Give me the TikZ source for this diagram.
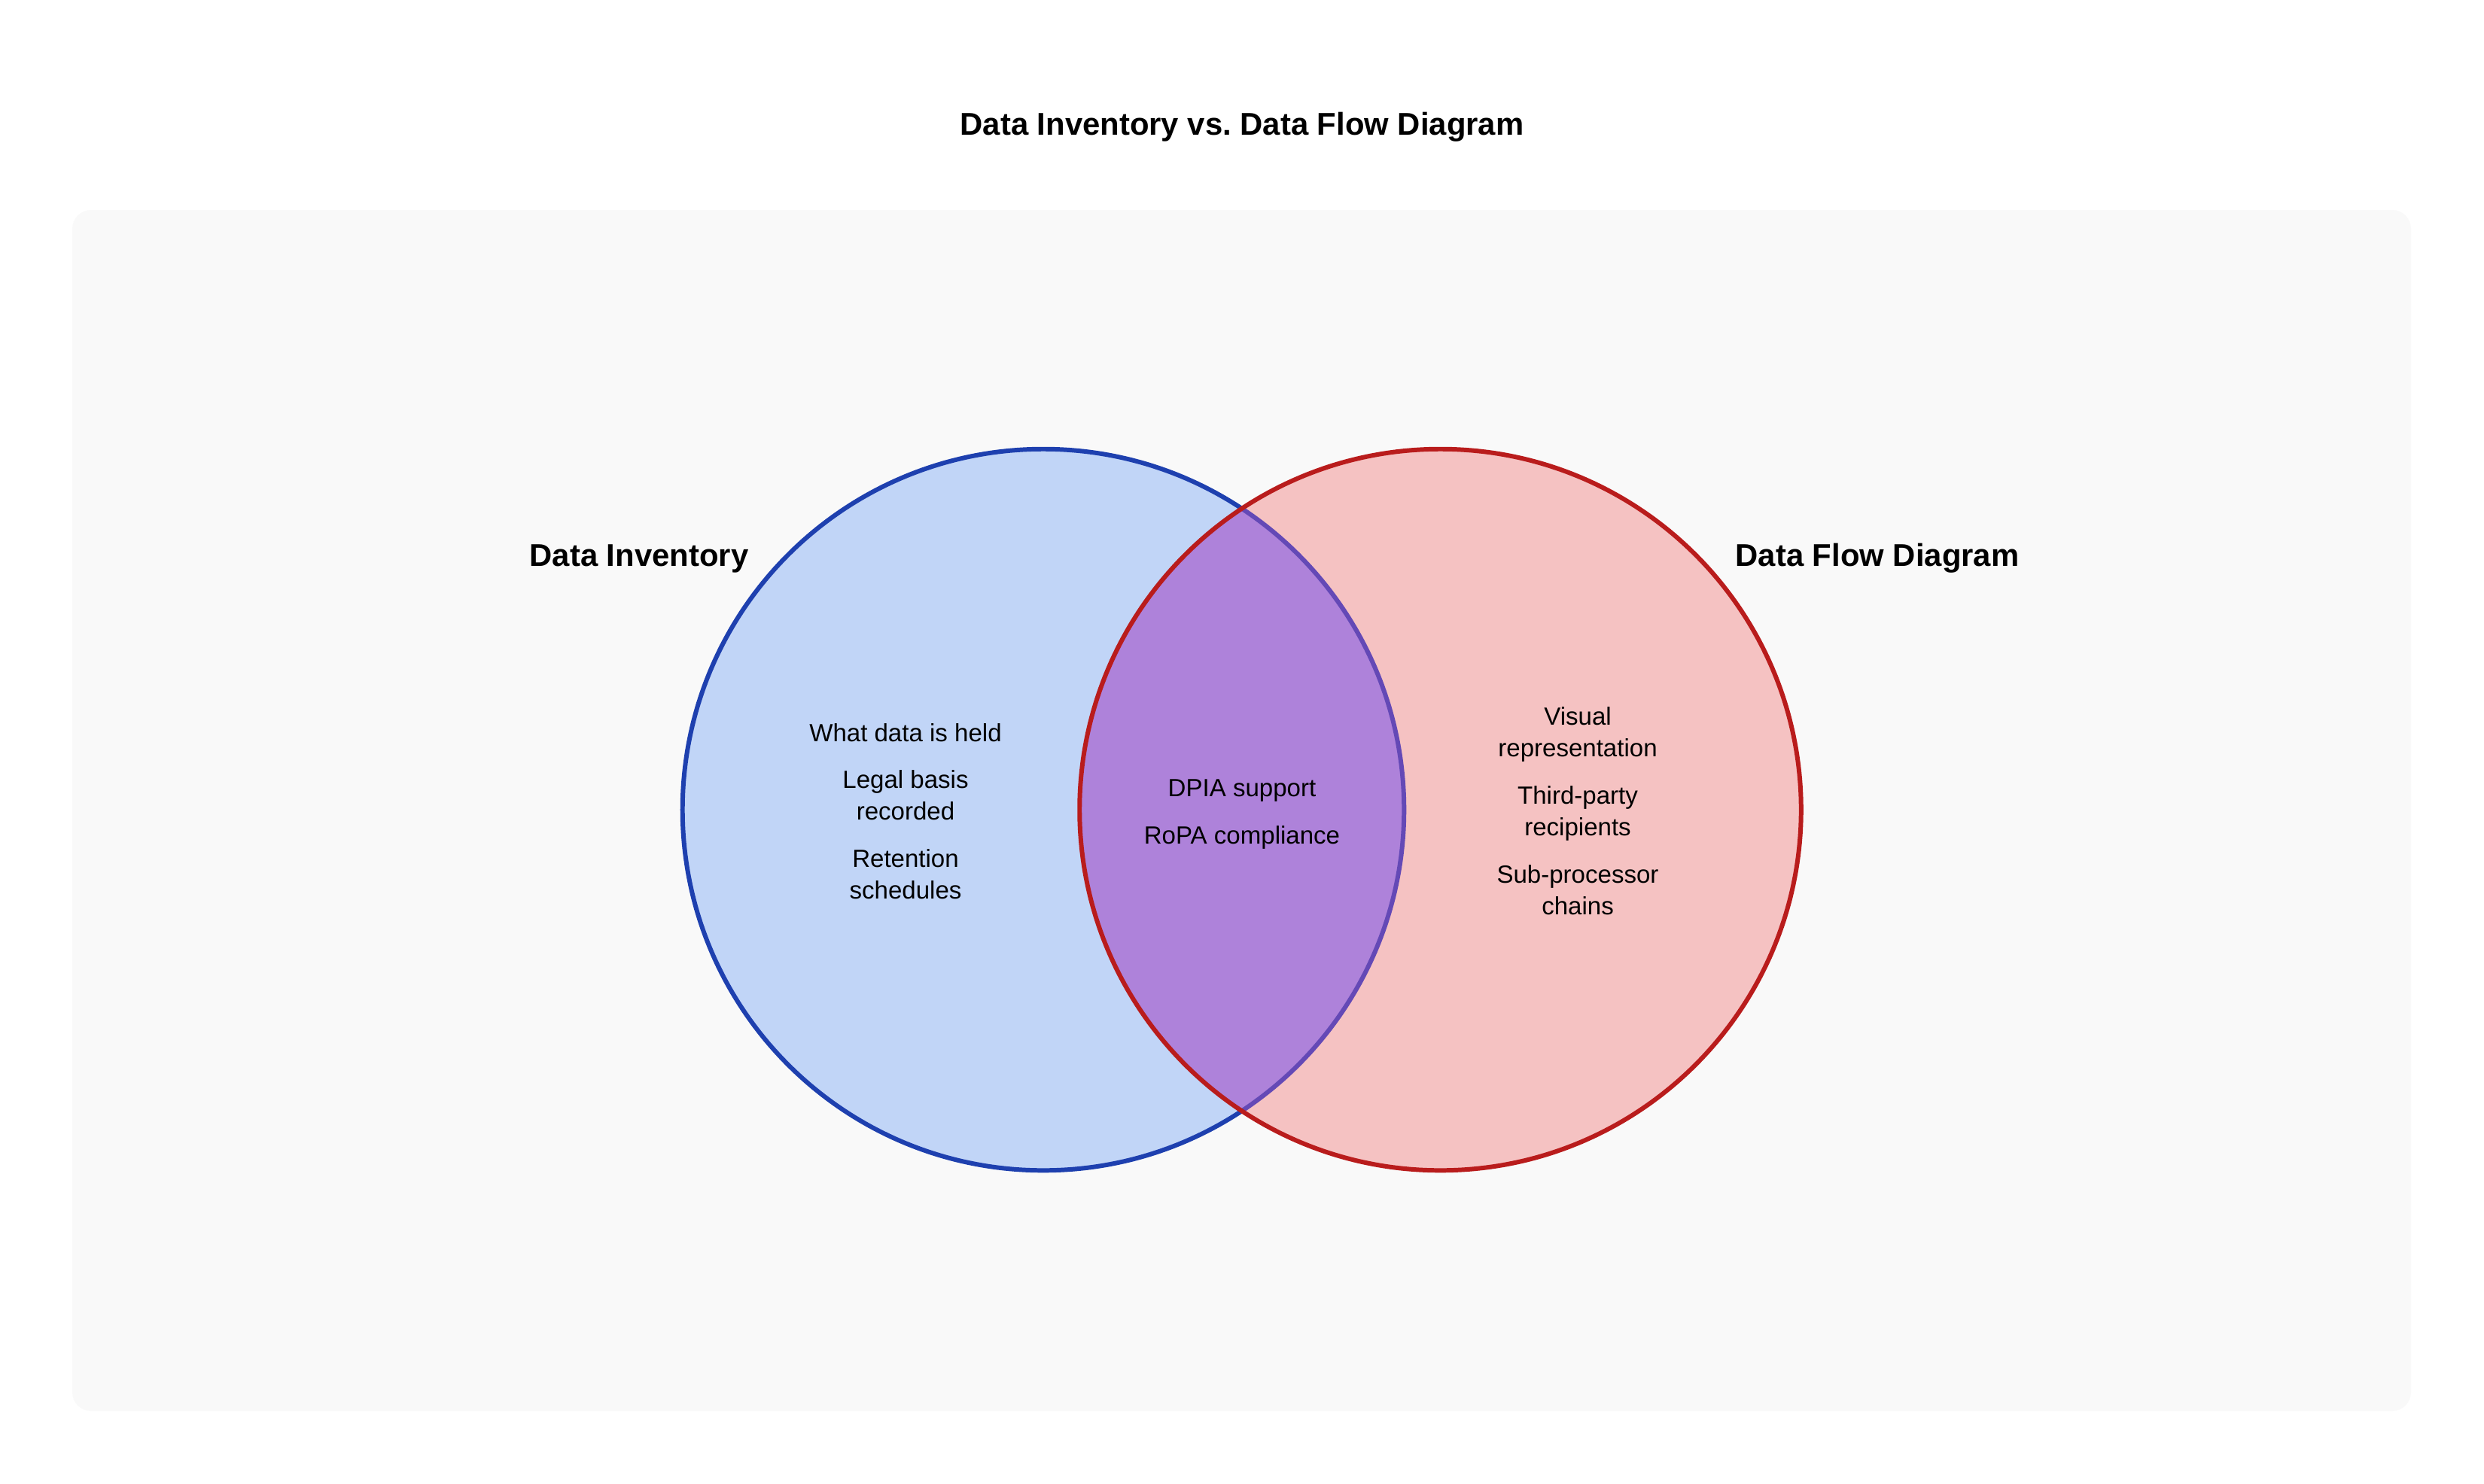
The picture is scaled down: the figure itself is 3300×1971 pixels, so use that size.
\documentclass[tikz,border=0pt]{standalone}
\usepackage{fontspec}
\setmainfont{Liberation Sans}
\frenchspacing
\definecolor{panelbg}{HTML}{F9F9F9}
\definecolor{bluefill}{HTML}{C1D5F7}
\definecolor{bluestroke}{HTML}{1E40AF}
\definecolor{redfill}{HTML}{F5C2C2}
\definecolor{redstroke}{HTML}{B91C1C}
\definecolor{purplefill}{HTML}{AE82DA}
\definecolor{fadedblue}{HTML}{6449B6}
\begin{document}
\begin{tikzpicture}[x=0.01cm,y=-0.01cm,
  body/.style={font=\fontsize{9.4pt}{12pt}\selectfont, anchor=base, inner sep=0pt, text=black},
  lab/.style={font=\bfseries\fontsize{11.9pt}{14pt}\selectfont, anchor=base, inner sep=0pt, text=black},
  ring/.style={line width=1.7pt}]
\useasboundingbox[fill=white] (0,0) rectangle (3300,1971);
\fill[panelbg, rounded corners=0.25cm] (96,279) rectangle (3203,1875);
\coordinate (L) at (1386,1076);
\coordinate (R) at (1913.5,1076);
% circles
\fill[bluefill] (L) circle[radius=4.79cm];
\draw[bluestroke, ring] (L) circle[radius=4.79cm];
\fill[redfill] (R) circle[radius=4.79cm];
\begin{scope}
  \clip (L) circle[radius=4.79cm];
  \fill[purplefill] (R) circle[radius=4.79cm];
\end{scope}
\begin{scope}
  \clip (R) circle[radius=4.79cm];
  \draw[fadedblue, ring] (L) circle[radius=4.79cm];
\end{scope}
\draw[redstroke, ring] (R) circle[radius=4.79cm];
% title and labels
\node[lab] (title) at (1650,179) {Data Inventory vs. Data Flow Diagram};
\node[lab] (labL) at (849,752) {Data Inventory};
\node[lab] (labR) at (2494,752) {Data Flow Diagram};
% left texts
\node[body] (l1) at (1203,985) {What data is held};
\node[body] (l2a) at (1203,1047) {Legal basis};
\node[body] (l2b) at (1203,1089) {recorded};
\node[body] (l3a) at (1203,1152) {Retention};
\node[body] (l3b) at (1203,1194) {schedules};
% center texts
\node[body] (c1) at (1650,1058) {DPIA support};
\node[body] (c2) at (1650,1121) {RoPA compliance};
% right texts
\node[body] (r1a) at (2096,963) {Visual};
\node[body] (r1b) at (2096,1005) {representation};
\node[body] (r2a) at (2096,1068) {Third-party};
\node[body] (r2b) at (2096,1110) {recipients};
\node[body] (r3a) at (2096,1173) {Sub-processor};
\node[body] (r3b) at (2096,1215) {chains};
\end{tikzpicture}
\end{document}
